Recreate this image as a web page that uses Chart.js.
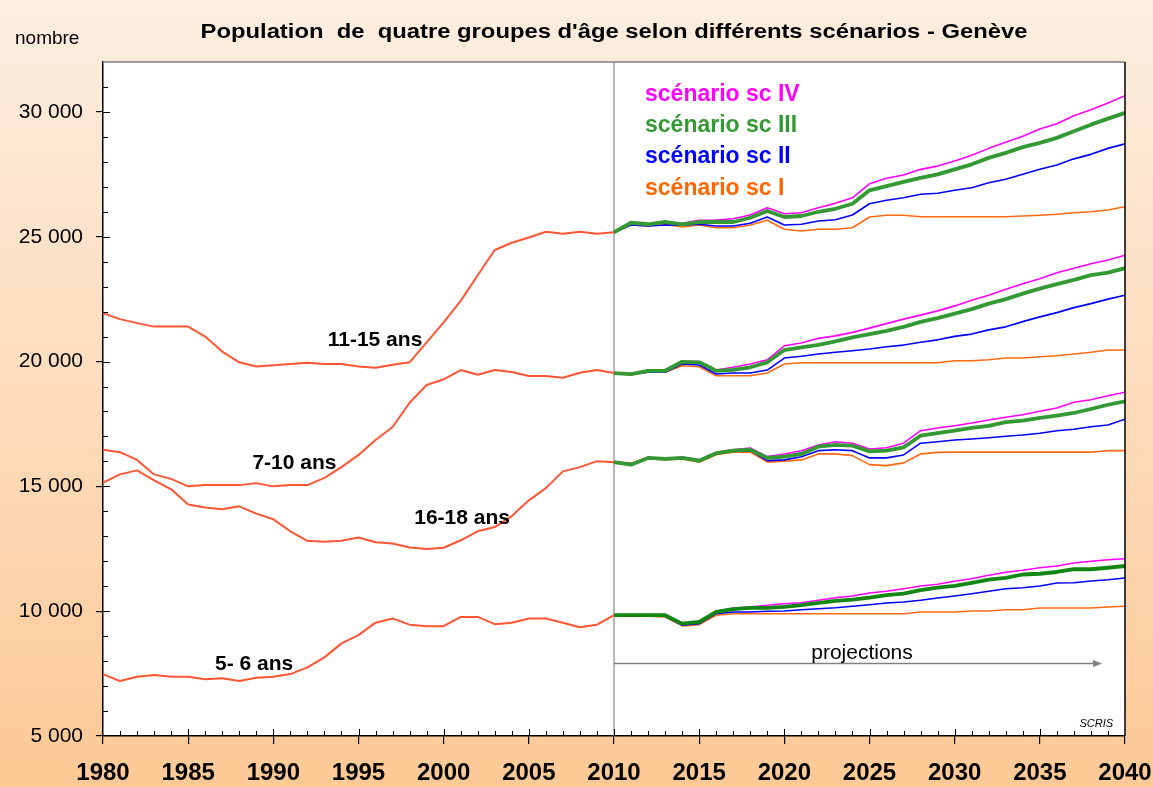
<!DOCTYPE html>
<html>
<head>
<meta charset="utf-8">
<title>Population de quatre groupes d'âge - Genève</title>
<script src="https://cdn.jsdelivr.net/npm/chart.js@4.4.1/dist/chart.umd.min.js"></script>
<style>
  body { margin: 0; background: #fff; }
  #wrap { width: 1153px; height: 787px; position: relative; }
</style>
</head>
<body>
<div id="wrap"><canvas id="popChart"></canvas></div>
<script>
// years of the observed part and of the projections
var histYears = [1980, 1981, 1982, 1983, 1984, 1985, 1986, 1987, 1988, 1989, 1990, 1991, 1992, 1993, 1994, 1995,
                 1996, 1997, 1998, 1999, 2000, 2001, 2002, 2003, 2004, 2005, 2006, 2007, 2008, 2009, 2010];
var projYears = [2010, 2011, 2012, 2013, 2014, 2015, 2016, 2017, 2018, 2019, 2020, 2021, 2022, 2023, 2024, 2025,
                 2026, 2027, 2028, 2029, 2030, 2031, 2032, 2033, 2034, 2035, 2036, 2037, 2038, 2039, 2040];

// observed population 1980-2010
var hist11_15 = [21940, 21700, 21540, 21400, 21400, 21400, 21000, 20400, 19970, 19800, 19850, 19900, 19950, 19900, 19900, 19800,
                 19750, 19870, 19970, 20770, 21570, 22430, 23460, 24470, 24760, 24970, 25200, 25120, 25200, 25120, 25180];
var hist7_10 = [16470, 16370, 16060, 15480, 15300, 15000, 15050, 15050, 15050, 15130, 15000, 15050, 15050, 15340, 15770, 16260,
                16860, 17380, 18350, 19060, 19290, 19660, 19470, 19660, 19580, 19420, 19420, 19350, 19550, 19660, 19540];
var hist16_18 = [15150, 15480, 15640, 15240, 14880, 14270, 14150, 14080, 14200, 13910, 13680, 13200, 12820, 12780, 12820, 12950,
                 12760, 12710, 12550, 12490, 12540, 12840, 13200, 13370, 13810, 14440, 14930, 15600, 15770, 16010, 15970];
var hist5_6 = [7480, 7200, 7370, 7440, 7370, 7370, 7270, 7310, 7200, 7330, 7370, 7480, 7750, 8150, 8710, 9040,
               9540, 9710, 9460, 9400, 9400, 9770, 9770, 9480, 9540, 9710, 9710, 9540, 9360, 9460, 9840];

// projections 2010-2040, one array per age group and scenario
var p11_IV  = [25180, 25540, 25500, 25590, 25540, 25660, 25670, 25720, 25870, 26160, 25920, 25960, 26160, 26340, 26560, 27120,
               27340, 27470, 27700, 27830, 28030, 28260, 28540, 28790, 29030, 29320, 29530, 29850, 30090, 30360, 30650];
var p11_III = [25180, 25560, 25500, 25600, 25500, 25590, 25590, 25590, 25760, 26030, 25790, 25830, 26000, 26120, 26320, 26860,
               27030, 27200, 27360, 27500, 27700, 27900, 28160, 28360, 28590, 28760, 28960, 29230, 29490, 29730, 29960];
var p11_II  = [25180, 25470, 25430, 25470, 25460, 25500, 25430, 25430, 25540, 25790, 25470, 25500, 25630, 25680, 25870, 26320,
               26460, 26560, 26700, 26740, 26860, 26960, 27160, 27300, 27500, 27700, 27870, 28120, 28300, 28540, 28720];
var p11_I   = [25180, 25470, 25430, 25500, 25390, 25470, 25360, 25360, 25470, 25660, 25300, 25230, 25300, 25300, 25360, 25790,
               25860, 25860, 25800, 25800, 25800, 25800, 25800, 25800, 25830, 25860, 25900, 25960, 26000, 26070, 26200];

var p7_IV  = [19540, 19500, 19630, 19660, 20000, 20000, 19660, 19770, 19900, 20070, 20630, 20740, 20930, 21030, 21170, 21340,
              21520, 21700, 21860, 22030, 22230, 22460, 22660, 22900, 23120, 23320, 23560, 23740, 23920, 24070, 24260];
var p7_III = [19540, 19500, 19630, 19630, 19990, 19970, 19630, 19670, 19770, 19970, 20460, 20570, 20670, 20810, 20970, 21100,
              21230, 21390, 21590, 21740, 21920, 22100, 22320, 22500, 22720, 22920, 23100, 23270, 23460, 23560, 23740];
var p7_II  = [19540, 19500, 19570, 19570, 19900, 19860, 19500, 19540, 19540, 19660, 20140, 20210, 20300, 20370, 20430, 20500,
              20590, 20660, 20770, 20870, 21010, 21100, 21270, 21390, 21600, 21790, 21960, 22160, 22320, 22500, 22660];
var p7_I   = [19540, 19460, 19570, 19570, 19830, 19790, 19430, 19430, 19430, 19540, 19900, 19950, 19950, 19950, 19950, 19950,
              19950, 19950, 19950, 19950, 20030, 20030, 20070, 20140, 20140, 20190, 20230, 20300, 20370, 20460, 20460];

var p16_IV  = [15970, 15900, 16170, 16100, 16170, 16060, 16370, 16470, 16540, 16190, 16300, 16430, 16660, 16790, 16730, 16500,
               16550, 16730, 17230, 17340, 17430, 17540, 17660, 17770, 17870, 18010, 18140, 18370, 18470, 18630, 18770];
var p16_III = [15970, 15870, 16140, 16100, 16140, 16030, 16330, 16430, 16470, 16140, 16190, 16300, 16590, 16660, 16630, 16400,
               16430, 16560, 17030, 17130, 17230, 17340, 17420, 17570, 17630, 17740, 17830, 17940, 18100, 18270, 18410];
var p16_II  = [15970, 15900, 16140, 16100, 16140, 16010, 16300, 16410, 16430, 16030, 16060, 16190, 16430, 16470, 16430, 16140,
               16140, 16260, 16730, 16790, 16860, 16900, 16950, 17010, 17060, 17130, 17230, 17290, 17390, 17460, 17690];
var p16_I   = [15970, 15930, 16140, 16060, 16100, 15970, 16270, 16370, 16370, 15970, 16010, 16060, 16300, 16300, 16230, 15870,
               15830, 15940, 16300, 16360, 16370, 16370, 16370, 16370, 16370, 16370, 16370, 16370, 16370, 16430, 16430];

var p5_IV  = [9840, 9800, 9800, 9800, 9480, 9570, 10000, 10130, 10170, 10240, 10300, 10340, 10440, 10540, 10610, 10730,
              10800, 10900, 11010, 11080, 11200, 11300, 11440, 11560, 11640, 11740, 11810, 11930, 12000, 12060, 12100];
var p5_III = [9840, 9840, 9840, 9840, 9500, 9570, 9970, 10080, 10130, 10130, 10170, 10240, 10330, 10410, 10460, 10540,
              10640, 10700, 10840, 10940, 11010, 11130, 11260, 11330, 11470, 11500, 11570, 11680, 11680, 11740, 11810];
var p5_II  = [9840, 9800, 9800, 9800, 9440, 9500, 9900, 9970, 9970, 10000, 10010, 10060, 10100, 10140, 10200, 10260,
              10330, 10370, 10440, 10530, 10610, 10700, 10800, 10900, 10940, 11010, 11130, 11140, 11210, 11260, 11330];
var p5_I   = [9840, 9800, 9800, 9770, 9410, 9460, 9840, 9900, 9900, 9900, 9900, 9900, 9900, 9900, 9900, 9900,
              9900, 9900, 9970, 9970, 9970, 10010, 10010, 10060, 10060, 10130, 10130, 10130, 10130, 10170, 10200];

// y ticks and text labels
var yTickValues = [5000, 10000, 15000, 20000, 25000, 30000];
var groupLabels = ["11-15 ans", "7-10 ans", "16-18 ans", "5- 6 ans"];
var scenarioLabels = ["scénario sc IV", "scénario sc III", "scénario sc II", "scénario sc I"];

var histColor = '#ff5533';
var scColors = ['#ff00ff', '#339933', '#0000ff', '#ff6a10'];
var FONT = "'Liberation Sans', Arial, sans-serif";

function pts(xs, ys) {
    return xs.map(function(x, i) { return { x: x, y: ys[i] }; });
}

function projSets(iv, iii, ii, i, green) {
    return [
        { data: pts(projYears, i),   borderColor: scColors[3], borderWidth: 1.6, order: 4 },
        { data: pts(projYears, ii),  borderColor: scColors[2], borderWidth: 1.6, order: 3 },
        { data: pts(projYears, iv),  borderColor: scColors[0], borderWidth: 1.6, order: 2 },
        { data: pts(projYears, iii), borderColor: green,       borderWidth: 3.8, order: 1 }
    ];
}

var datasets = [
    { data: pts(histYears, hist11_15), borderColor: histColor, borderWidth: 2, order: 5 },
    { data: pts(histYears, hist7_10),  borderColor: histColor, borderWidth: 2, order: 5 },
    { data: pts(histYears, hist16_18), borderColor: histColor, borderWidth: 2, order: 5 },
    { data: pts(histYears, hist5_6),   borderColor: histColor, borderWidth: 2, order: 5 }
].concat(projSets(p11_IV, p11_III, p11_II, p11_I, '#339933'))
 .concat(projSets(p7_IV, p7_III, p7_II, p7_I, '#339933'))
 .concat(projSets(p16_IV, p16_III, p16_II, p16_I, '#339933'))
 .concat(projSets(p5_IV, p5_III, p5_II, p5_I, '#118811'));

function spaced(v) {
    return String(v).replace(/\B(?=(\d{3})+(?!\d))/g, ' ');
}

// background, frame, small ticks and the text annotations
var decor = {
    id: 'decor',
    beforeDraw: function(chart) {
        var ctx = chart.ctx, a = chart.chartArea;
        var g = ctx.createLinearGradient(0, 0, 0, chart.height);
        g.addColorStop(0, '#fdeee0');
        g.addColorStop(0.5, '#fddcbc');
        g.addColorStop(1, '#fdc996');
        ctx.save();
        ctx.fillStyle = g;
        ctx.fillRect(0, 0, chart.width, chart.height);
        ctx.fillStyle = '#ffffff';
        ctx.fillRect(a.left, a.top, a.right - a.left, a.bottom - a.top);
        ctx.restore();
    },
    beforeDatasetsDraw: function(chart) {
        var ctx = chart.ctx, a = chart.chartArea, xs = chart.scales.x;
        var x0 = xs.getPixelForValue(2010);
        ctx.save();
        ctx.strokeStyle = '#a0a0a0';
        ctx.lineWidth = 1.5;
        ctx.beginPath();
        ctx.moveTo(x0, a.top);
        ctx.lineTo(x0, a.bottom);
        ctx.stroke();
        ctx.restore();
    },
    afterDraw: function(chart) {
        var ctx = chart.ctx, a = chart.chartArea;
        var xs = chart.scales.x, ys = chart.scales.y;
        ctx.save();

        // frame top (grey) and right (black)
        ctx.lineWidth = 1.5;
        ctx.strokeStyle = '#808080';
        ctx.beginPath(); ctx.moveTo(a.left, a.top); ctx.lineTo(a.right, a.top); ctx.stroke();
        ctx.strokeStyle = '#000';
        ctx.beginPath(); ctx.moveTo(a.right, a.top); ctx.lineTo(a.right, a.bottom); ctx.stroke();

        // inner ticks: every year on x, every 1000 on y
        ctx.lineWidth = 1;
        ctx.beginPath();
        for (var yr = 1981; yr < 2040; yr++) {
            var px = Math.round(xs.getPixelForValue(yr)) + 0.5;
            ctx.moveTo(px, a.bottom);
            ctx.lineTo(px, a.bottom - (yr % 5 === 0 ? 7 : 5));
        }
        for (var v = 6000; v < 32000; v += 1000) {
            var py = Math.round(ys.getPixelForValue(v)) + 0.5;
            ctx.moveTo(a.left, py);
            ctx.lineTo(a.left + (v % 5000 === 0 ? 7 : 5), py);
        }
        ctx.stroke();

        // title (slightly stretched like the original) and unit
        ctx.fillStyle = '#000';
        ctx.textBaseline = 'middle';
        ctx.textAlign = 'center';
        ctx.font = 'bold 20px ' + FONT;
        ctx.save();
        ctx.translate((a.left + a.right) / 2, 32);
        ctx.scale(1.19, 1);
        ctx.fillText("Population  de  quatre groupes d'âge selon différents scénarios - Genève", 0, 0);
        ctx.restore();
        ctx.textAlign = 'left';
        ctx.font = '19px ' + FONT;
        ctx.fillText('nombre', 15, 39);

        // age group labels
        ctx.textAlign = 'center';
        ctx.font = 'bold 21px ' + FONT;
        var gpos = [[1995.97, 20870], [1991.24, 15935], [2001.08, 13716], [1988.87, 7880]];
        groupLabels.forEach(function(t, i) {
            ctx.fillText(t, xs.getPixelForValue(gpos[i][0]), ys.getPixelForValue(gpos[i][1]));
        });

        // scenario legend
        ctx.textAlign = 'left';
        ctx.font = 'bold 23px ' + FONT;
        var lpos = [30710, 29470, 28190, 26910];
        var lcol = ['#ff00ff', '#339933', '#0000ff', '#ff6600'];
        scenarioLabels.forEach(function(t, i) {
            ctx.fillStyle = lcol[i];
            ctx.fillText(t, xs.getPixelForValue(2011.82), ys.getPixelForValue(lpos[i]));
        });

        // projections arrow
        var ax0 = xs.getPixelForValue(2010), ax1 = xs.getPixelForValue(2038.65);
        var ay = Math.round(ys.getPixelForValue(7920)) + 0.5;
        ctx.strokeStyle = '#808080';
        ctx.fillStyle = '#808080';
        ctx.lineWidth = 1.5;
        ctx.beginPath(); ctx.moveTo(ax0, ay); ctx.lineTo(ax1 - 6, ay); ctx.stroke();
        ctx.beginPath(); ctx.moveTo(ax1, ay); ctx.lineTo(ax1 - 9, ay - 3.5); ctx.lineTo(ax1 - 9, ay + 3.5); ctx.closePath(); ctx.fill();
        ctx.fillStyle = '#000';
        ctx.textAlign = 'center';
        ctx.font = '21px ' + FONT;
        ctx.fillText('projections', xs.getPixelForValue(2024.56), ys.getPixelForValue(8320));

        ctx.textAlign = 'right';
        ctx.font = 'italic 11px ' + FONT;
        ctx.fillText('SCRIS', xs.getPixelForValue(2039.3), ys.getPixelForValue(5500));
        ctx.restore();
    }
};

var chart = new Chart(document.getElementById('popChart'), {
    type: 'line',
    data: { datasets: datasets },
    options: {
        responsive: true,
        maintainAspectRatio: false,
        animation: false,
        devicePixelRatio: 1,
        elements: {
            point: { radius: 0 },
            line: { tension: 0, fill: false, borderJoinStyle: 'round' }
        },
        layout: { padding: { top: 62, right: 28, left: 0, bottom: 0 } },
        plugins: {
            legend: { display: false },
            tooltip: { enabled: false },
            title: { display: false }
        },
        scales: {
            x: {
                type: 'linear',
                min: 1980,
                max: 2040,
                // fixed axis height, and no extra side padding for the end labels
                afterFit: function(s) { s.height = 51; s.paddingLeft = 0; s.paddingRight = 0; },
                ticks: {
                    stepSize: 5,
                    color: '#000',
                    padding: 15,
                    font: { family: FONT, size: 24, weight: 'bold' },
                    callback: function(v) { return String(v); }
                },
                grid: { drawOnChartArea: false, color: '#000', tickLength: 8, lineWidth: 1.2 },
                border: { color: '#000', width: 1.5 }
            },
            y: {
                min: 5000,
                max: 32000,
                afterFit: function(s) { s.width = 103; },
                afterBuildTicks: function(s) { s.ticks = yTickValues.map(function(v) { return { value: v }; }); },
                ticks: {
                    color: '#000',
                    padding: 13,
                    font: { family: FONT, size: 21 },
                    callback: function(v) { return spaced(v); }
                },
                grid: { drawOnChartArea: false, color: '#000', tickLength: 7, lineWidth: 1.2 },
                border: { color: '#000', width: 1.5 }
            }
        }
    },
    plugins: [decor]
});
</script>
</body>
</html>
